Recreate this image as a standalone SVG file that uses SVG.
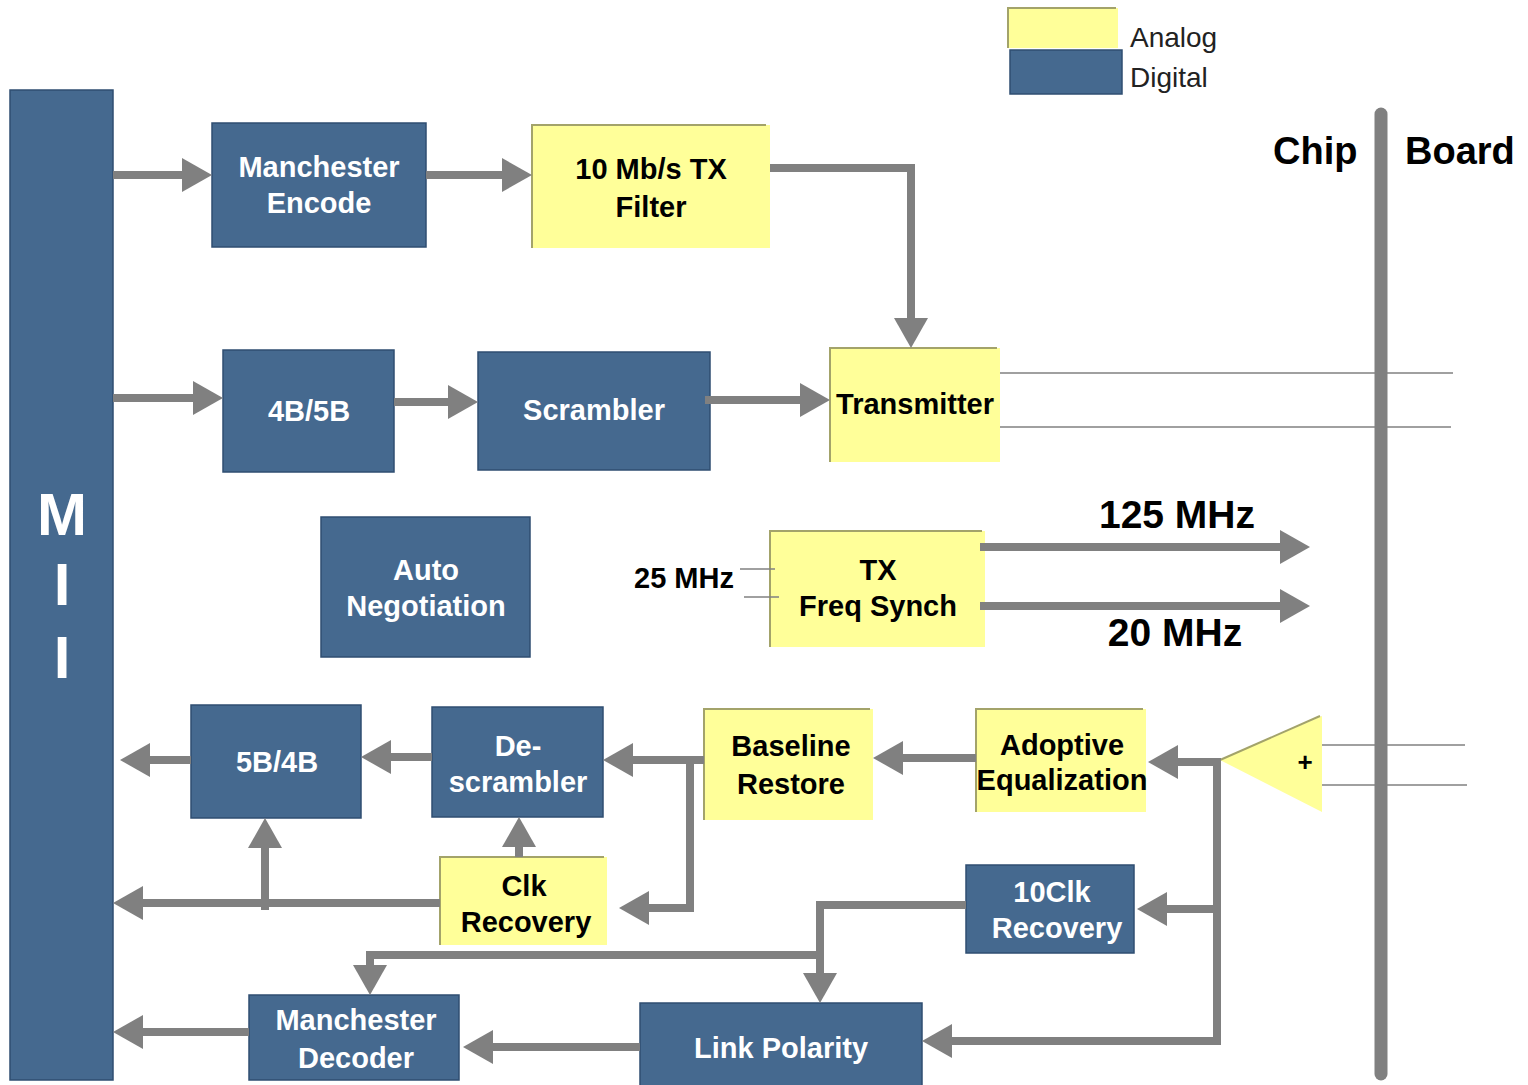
<svg xmlns="http://www.w3.org/2000/svg" width="1528" height="1085" viewBox="0 0 1528 1085">
<style>
.dig{fill:#45698f;stroke:#2f4e71;stroke-width:1.5}
.ana{fill:#ffff99}
.edge{fill:none;stroke:#a3a36a;stroke-width:2}
.wt{font-family:"Liberation Sans",Arial,sans-serif;font-weight:bold;font-size:29px;fill:#ffffff;text-anchor:middle}
.big{font-size:60px}
.bt{font-family:"Liberation Sans",Arial,sans-serif;font-weight:bold;font-size:29px;fill:#000000;text-anchor:middle}
.lbl{font-family:"Liberation Sans",Arial,sans-serif;font-weight:bold;fill:#000000}
.leg{font-family:"Liberation Sans",Arial,sans-serif;font-size:28px;fill:#222222}
.conn{fill:none;stroke:#808080;stroke-width:8;stroke-linejoin:miter}
.thin{fill:none;stroke:#808080;stroke-width:1.5}
</style>
<defs>
<marker id="ah" markerUnits="userSpaceOnUse" markerWidth="32" markerHeight="36" refX="2" refY="18" orient="auto">
<path d="M0,1 L30,18 L0,35 z" fill="#808080"/>
</marker>
</defs>
<rect width="1528" height="1085" fill="#ffffff"/>

<g id="legend">
<rect x="1008" y="8" width="110" height="40" class="ana"/>
<polyline points="1008,48 1008,8 1116,8" class="edge"/>
<rect x="1010" y="50" width="112" height="44" class="dig"/>
<text x="1130" y="47" class="leg">Analog</text>
<text x="1130" y="87" class="leg">Digital</text>
</g>

<g id="chip-board">
<line x1="1381" y1="114" x2="1381" y2="1074" stroke="#808080" stroke-width="13" stroke-linecap="round"/>
<text x="1273" y="164" class="lbl" font-size="38">Chip</text>
<text x="1405" y="164" class="lbl" font-size="38">Board</text>
</g>

<g id="mii">
<rect x="10" y="90" width="103" height="990" class="dig"/>
<text x="62" y="535" class="wt big">M</text>
<text x="62" y="605" class="wt big">I</text>
<text x="62" y="678" class="wt big">I</text>
</g>

<g id="manchester-encode">
<rect x="212" y="123" width="214" height="124" class="dig"/>
<text x="319" y="177" class="wt">Manchester</text>
<text x="319" y="213" class="wt">Encode</text>
</g>

<g id="tx-filter">
<rect x="532" y="125" width="238" height="123" class="ana"/>
<polyline points="532,248 532,125 766,125" class="edge"/>
<text x="651" y="179" class="bt">10 Mb/s TX</text>
<text x="651" y="217" class="bt">Filter</text>
</g>

<g id="transmitter">
<rect x="830" y="348" width="170" height="114" class="ana"/>
<polyline points="830,462 830,348 997,348" class="edge"/>
<text x="915" y="414" class="bt">Transmitter</text>
</g>

<g id="enc-4b5b">
<rect x="223" y="350" width="171" height="122" class="dig"/>
<text x="309" y="421" class="wt">4B/5B</text>
</g>

<g id="scrambler">
<rect x="478" y="352" width="232" height="118" class="dig"/>
<text x="594" y="420" class="wt">Scrambler</text>
</g>

<g id="auto-negotiation">
<rect x="321" y="517" width="209" height="140" class="dig"/>
<text x="426" y="580" class="wt">Auto</text>
<text x="426" y="616" class="wt">Negotiation</text>
</g>

<g id="tx-freq-synch">
<rect x="770" y="531" width="215" height="116" class="ana"/>
<polyline points="770,647 770,531 982,531" class="edge"/>
<text x="878" y="580" class="bt">TX</text>
<text x="878" y="616" class="bt">Freq Synch</text>
<text x="684" y="588" class="lbl" font-size="29" text-anchor="middle">25 MHz</text>
<text x="1177" y="528" class="lbl" font-size="39" text-anchor="middle">125 MHz</text>
<text x="1175" y="646" class="lbl" font-size="39" text-anchor="middle">20 MHz</text>
</g>

<g id="dec-5b4b">
<rect x="191" y="705" width="170" height="113" class="dig"/>
<text x="277" y="772" class="wt">5B/4B</text>
</g>

<g id="descrambler">
<rect x="432" y="707" width="171" height="110" class="dig"/>
<text x="518" y="756" class="wt">De-</text>
<text x="518" y="792" class="wt">scrambler</text>
</g>

<g id="baseline-restore">
<rect x="704" y="709" width="169" height="111" class="ana"/>
<polyline points="704,820 704,709 870,709" class="edge"/>
<text x="791" y="756" class="bt">Baseline</text>
<text x="791" y="794" class="bt">Restore</text>
</g>

<g id="adaptive-eq">
<rect x="976" y="709" width="170" height="103" class="ana"/>
<polyline points="976,812 976,709 1143,709" class="edge"/>
<text x="1062" y="755" class="bt">Adoptive</text>
<text x="1062" y="790" class="bt">Equalization</text>
</g>

<g id="amplifier">
<polygon points="1220,760 1322,716 1322,812" class="ana"/>
<line x1="1220" y1="760" x2="1320" y2="716" class="edge"/>
<text x="1305" y="771" class="lbl" font-size="26" text-anchor="middle">+</text>
</g>

<g id="clk-recovery">
<rect x="440" y="857" width="167" height="88" class="ana"/>
<polyline points="440,945 440,857 604,857" class="edge"/>
<text x="524" y="896" class="bt">Clk</text>
<text x="526" y="932" class="bt">Recovery</text>
</g>

<g id="clk10-recovery">
<rect x="966" y="865" width="168" height="88" class="dig"/>
<text x="1052" y="902" class="wt">10Clk</text>
<text x="1057" y="938" class="wt">Recovery</text>
</g>

<g id="link-polarity">
<rect x="640" y="1003" width="282" height="84" class="dig"/>
<text x="781" y="1058" class="wt">Link Polarity</text>
</g>

<g id="manchester-decoder">
<rect x="249" y="995" width="210" height="85" class="dig"/>
<text x="356" y="1030" class="wt">Manchester</text>
<text x="356" y="1068" class="wt">Decoder</text>
</g>

<g id="connectors">
<path d="M113,175 H184" class="conn" marker-end="url(#ah)"/>
<path d="M426,175 H504" class="conn" marker-end="url(#ah)"/>
<path d="M770,168 H911 V320" class="conn" marker-end="url(#ah)"/>
<path d="M113,398 H195" class="conn" marker-end="url(#ah)"/>
<path d="M394,402 H450" class="conn" marker-end="url(#ah)"/>
<path d="M705,400 H802" class="conn" marker-end="url(#ah)"/>
<path d="M980,547 H1282" class="conn" marker-end="url(#ah)"/>
<path d="M980,606 H1282" class="conn" marker-end="url(#ah)"/>
<path d="M1220,762 H1176" class="conn" marker-end="url(#ah)"/>
<path d="M1217,758 V1041 H950" class="conn" marker-end="url(#ah)"/>
<path d="M1217,909 H1165" class="conn" marker-end="url(#ah)"/>
<path d="M976,758 H901" class="conn" marker-end="url(#ah)"/>
<path d="M704,760 H631" class="conn" marker-end="url(#ah)"/>
<path d="M690,760 V908 H647" class="conn" marker-end="url(#ah)"/>
<path d="M432,757 H389" class="conn" marker-end="url(#ah)"/>
<path d="M191,760 H148" class="conn" marker-end="url(#ah)"/>
<path d="M519,857 V845" class="conn" marker-end="url(#ah)"/>
<path d="M440,903 H141" class="conn" marker-end="url(#ah)"/>
<path d="M265,910 V846" class="conn" marker-end="url(#ah)"/>
<path d="M966,905 H820 V975" class="conn" marker-end="url(#ah)"/>
<path d="M820,955 H370 V967" class="conn" marker-end="url(#ah)"/>
<path d="M640,1047 H491" class="conn" marker-end="url(#ah)"/>
<path d="M249,1032 H141" class="conn" marker-end="url(#ah)"/>
<path d="M1000,373 H1453" class="thin"/>
<path d="M1000,427 H1451" class="thin"/>
<path d="M740,569 H775" class="thin"/>
<path d="M744,597 H779" class="thin"/>
<path d="M1322,745 H1465" class="thin"/>
<path d="M1322,785 H1467" class="thin"/>
</g>
</svg>
